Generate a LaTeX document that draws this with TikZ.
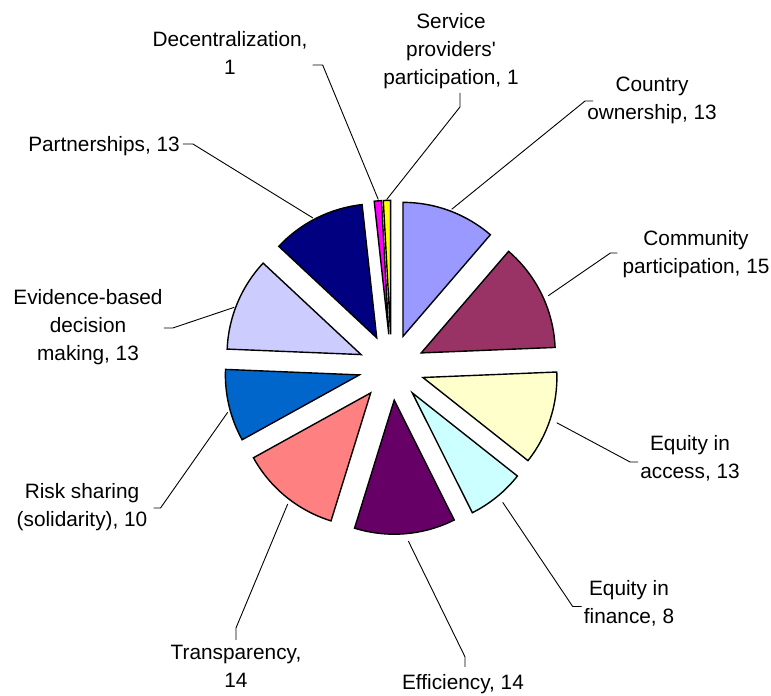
\documentclass[tikz,border=0pt]{standalone}
\usepackage{fontspec}
\setmainfont{Liberation Sans}
\definecolor{cOwn}{HTML}{9999FF}
\definecolor{cCom}{HTML}{993366}
\definecolor{cAcc}{HTML}{FFFFCC}
\definecolor{cFin}{HTML}{CCFFFF}
\definecolor{cEff}{HTML}{660066}
\definecolor{cTra}{HTML}{FF8080}
\definecolor{cRis}{HTML}{0066CC}
\definecolor{cEvi}{HTML}{CCCCFF}
\definecolor{cPar}{HTML}{000080}
\definecolor{cDec}{HTML}{FF00FF}
\definecolor{cSer}{HTML}{FFFF00}
\begin{document}
\begin{tikzpicture}[x=1pt,y=-1pt,
  slice/.style={draw=black, line width=1.4pt, line join=miter},
  lbl/.style={font=\fontsize{20.8pt}{28pt}\selectfont, align=center, inner sep=0pt,
    execute at begin node=\strut, execute at end node=\strut},
  lead/.style={draw=black, line width=0.9pt}]
\useasboundingbox (0,0) rectangle (771,696);
\coordinate (C) at (391.5,367.3);
% slices: start angle / end angle (math, clockwise) / colour / name
\foreach \s/\e/\c/\n in {90/49.304/cOwn/Own, 49.304/2.348/cCom/Com, 2.348/-38.348/cAcc/Acc,
  -38.348/-63.391/cFin/Fin, -63.391/-107.217/cEff/Eff, -107.217/-151.043/cTra/Tra,
  -151.043/-182.348/cRis/Ris, -182.348/-223.043/cEvi/Evi, -223.043/-263.739/cPar/Par,
  -263.739/-266.870/cDec/Dec, -266.870/-270/cSer/Ser}{
  \pgfmathsetmacro\m{(\s+\e)/2}
  \coordinate (o\n) at ([shift={(-\m:33)}]C);
  \filldraw[slice, fill=\c] (o\n) -- ++(-\s:134) arc[start angle=-\s, end angle=-\e, radius=134] -- cycle;
}
% leader ends on the slices
\coordinate (pOwn) at (451.7,209.3);
\coordinate (pCom) at (548.3,295.7);
\coordinate (pAcc) at (556.7,422.7);
\coordinate (pFin) at (502.7,502.3);
\coordinate (pEff) at (408.3,541);
\coordinate (pTra) at (287.7,504);
\coordinate (pRis) at (227.7,412.3);
\coordinate (pEvi) at (234.3,307.3);
\coordinate (pPar) at (313,218);
\coordinate (pDec) at (378.3,199.5);
\coordinate (pSer) at (386.7,199.5);
% labels
\node[lbl] (lDec) at (230,57) {Decentralization,\\1};
\node[lbl] (lSer) at (451,53) {Service\\providers\textquotesingle\\participation, 1};
\node[lbl] (lOwn) at (652,102) {Country\\ownership, 13};
\node[lbl] (lPar) at (104,146) {Partnerships, 13};
\node[lbl] (lCom) at (696,256) {Community\\participation, 15};
\node[lbl] (lEvi) at (88,329) {Evidence-based\\decision\\making, 13};
\node[lbl] (lAcc) at (690,461) {Equity in\\access, 13};
\node[lbl] (lFin) at (629,606.5) {Equity in\\finance, 8};
\node[lbl] (lRis) at (82,509) {Risk sharing\\(solidarity), 10};
\node[lbl] (lTra) at (236,670.5) {Transparency,\\14};
\node[lbl] (lEff) at (463,684) {Efficiency, 14};
% leader lines
\draw[lead] ([shift={(5,8)}]lDec.east) -- ++(10,0) -- (pDec);
\draw[lead] ([shift={(9,0)}]lSer.south) -- ++(0,14) -- (pSer);
\draw[lead] ([shift={(6,-1)}]lOwn.west) -- ++(-8,0) -- (pOwn);
\draw[lead] ([shift={(-5,-3)}]lCom.west) -- ++(-7,0) -- (pCom);
\draw[lead] ([shift={(-2,1)}]lAcc.west) -- ++(-8,0) -- (pAcc);
\draw[lead] ([shift={(-2,0)}]lFin.west) -- ++(-9,0) -- (pFin);
\draw[lead] ([shift={(2,-3)}]lEff.north) -- ++(0,-10) -- (pEff);
\draw[lead] ([shift={(0,-5)}]lTra.north) -- ++(0,-12) -- (pTra);
\draw[lead] ([shift={(6,-1)}]lRis.east) -- ++(7,0) -- (pRis);
\draw[lead] ([shift={(1,-1)}]lEvi.east) -- ++(9,0) -- (pEvi);
\draw[lead] ([shift={(3,-2)}]lPar.east) -- ++(10,0) -- (pPar);
\end{tikzpicture}
\end{document}
